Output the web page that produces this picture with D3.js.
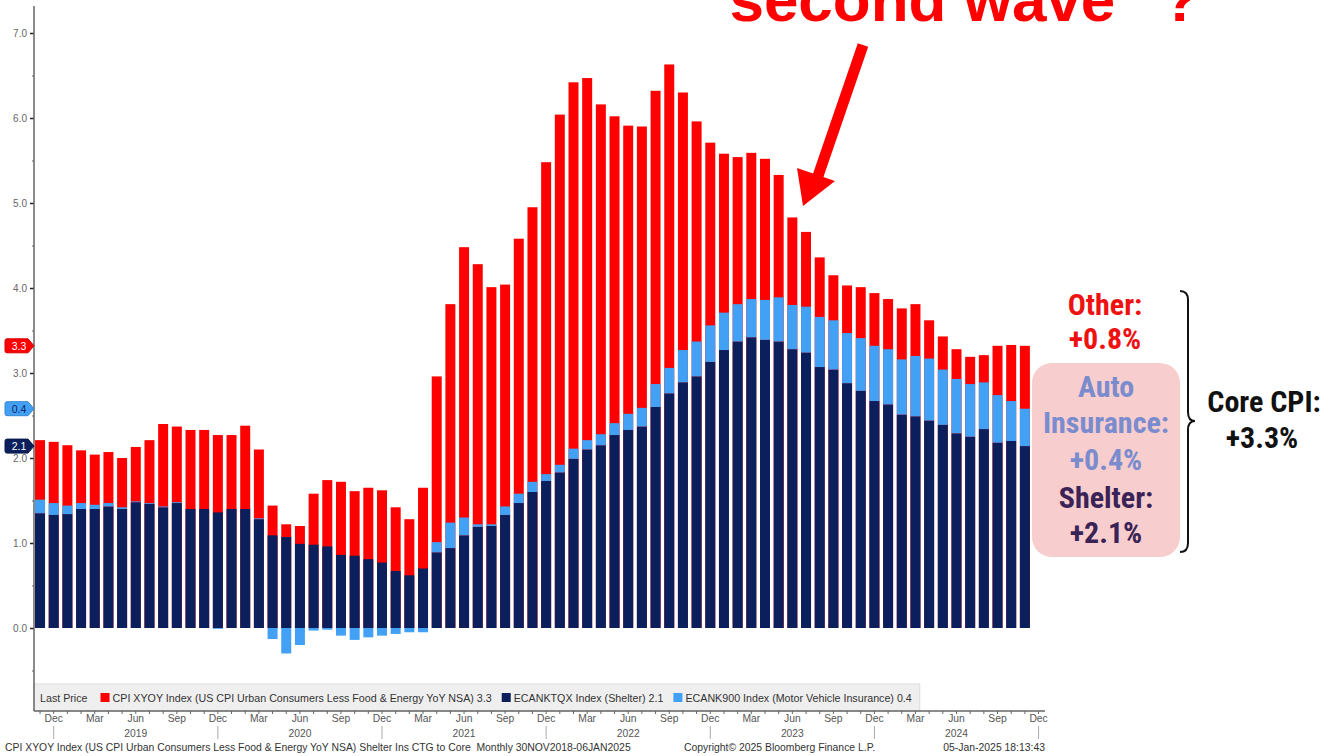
<!DOCTYPE html>
<html><head><meta charset="utf-8">
<script src="https://cdn.jsdelivr.net/npm/d3@7"></script>
<style>body{margin:0;background:#fff;} svg{display:block;}</style>
</head><body>
<svg id="chart" width="1340" height="756"></svg>
<script>
const months = ["2018-11","2018-12",
"2019-01","2019-02","2019-03","2019-04","2019-05","2019-06","2019-07","2019-08","2019-09","2019-10","2019-11","2019-12",
"2020-01","2020-02","2020-03","2020-04","2020-05","2020-06","2020-07","2020-08","2020-09","2020-10","2020-11","2020-12",
"2021-01","2021-02","2021-03","2021-04","2021-05","2021-06","2021-07","2021-08","2021-09","2021-10","2021-11","2021-12",
"2022-01","2022-02","2022-03","2022-04","2022-05","2022-06","2022-07","2022-08","2022-09","2022-10","2022-11","2022-12",
"2023-01","2023-02","2023-03","2023-04","2023-05","2023-06","2023-07","2023-08","2023-09","2023-10","2023-11","2023-12",
"2024-01","2024-02","2024-03","2024-04","2024-05","2024-06","2024-07","2024-08","2024-09","2024-10","2024-11","2024-12"];

// Core CPI YoY (total bar height)
const coreCPI = [2.21,2.19,
2.15,2.09,2.04,2.07,2.00,2.13,2.21,2.40,2.37,2.33,2.33,2.27,
2.27,2.38,2.10,1.44,1.22,1.20,1.58,1.74,1.72,1.61,1.65,1.62,
1.42,1.28,1.65,2.96,3.81,4.48,4.28,4.01,4.04,4.58,4.95,5.48,
6.04,6.42,6.47,6.16,6.02,5.91,5.90,6.32,6.63,6.30,5.96,5.71,
5.58,5.54,5.59,5.52,5.33,4.83,4.66,4.36,4.15,4.03,4.01,3.94,
3.87,3.76,3.81,3.62,3.43,3.28,3.19,3.21,3.32,3.33,3.32];

// Shelter contribution to core
const shelter = [1.35,1.33,
1.34,1.40,1.40,1.43,1.40,1.48,1.46,1.42,1.47,1.40,1.40,1.36,
1.40,1.40,1.28,1.09,1.07,0.99,0.98,0.96,0.86,0.85,0.81,0.77,
0.67,0.62,0.70,0.89,0.94,1.09,1.19,1.20,1.33,1.47,1.60,1.73,
1.83,1.99,2.10,2.15,2.27,2.33,2.37,2.60,2.76,2.89,2.96,3.13,
3.27,3.37,3.42,3.39,3.37,3.28,3.24,3.07,3.04,2.88,2.79,2.67,
2.63,2.51,2.49,2.44,2.39,2.29,2.25,2.34,2.18,2.20,2.14];

// Motor vehicle insurance contribution to core
const insurance = [0.16,0.14,
0.10,0.07,0.05,0.04,0.02,0.01,0.01,0.01,0.01,0.00,0.00,-0.01,
0.00,0.00,0.01,-0.13,-0.30,-0.20,-0.03,-0.02,-0.09,-0.14,-0.11,-0.09,
-0.07,-0.05,-0.05,0.12,0.30,0.21,0.03,0.02,0.10,0.11,0.12,0.08,
0.09,0.12,0.11,0.13,0.14,0.19,0.22,0.27,0.30,0.38,0.41,0.43,
0.44,0.44,0.45,0.47,0.52,0.52,0.54,0.59,0.58,0.59,0.62,0.65,
0.65,0.65,0.71,0.73,0.65,0.64,0.62,0.55,0.56,0.47,0.44];

const yTicks = [0,1,2,3,4,5,6,7];
const yMinorTicks = [-0.5,0.5,1.5,2.5,3.5,4.5,5.5,6.5];
const monthNames = {"12":"Dec","03":"Mar","06":"Jun","09":"Sep"};

const RED = "#ff0000", NAVY = "#0b1f5c", LBLUE = "#42a1f4";
const FONT = "'Liberation Sans', Arial, sans-serif";
const NARROW = "'Liberation Sans Narrow', 'Arial Narrow', 'Roboto Condensed', sans-serif";

const svg = d3.select("#chart");
const x = d3.scaleBand().domain(months).range([33.2, 1045.4]).paddingInner(0.27).paddingOuter(0.135);
const y = d3.scaleLinear().domain([0, 7]).range([628, 33]);
const bw = x.bandwidth();

const data = coreCPI.map((c, i) => ({m: months[i], core: c, sh: shelter[i], ins: insurance[i]}));

// Title (clipped at top, as in the source image)
svg.append("text").attr("x", 700).attr("y", 21)
  .attr("font-family", FONT).attr("font-weight", "bold").attr("font-size", 62)
  .attr("fill", RED).text("\"second wave\" ?");

// Bars
const gBars = svg.append("g");
gBars.selectAll("rect.core").data(data).join("rect").attr("class", "core")
  .attr("x", d => x(d.m)).attr("width", bw)
  .attr("y", d => y(d.core)).attr("height", d => y(0) - y(d.core)).attr("fill", RED);
gBars.selectAll("rect.sh").data(data).join("rect").attr("class", "sh")
  .attr("x", d => x(d.m)).attr("width", bw)
  .attr("y", d => y(d.sh)).attr("height", d => y(0) - y(d.sh)).attr("fill", NAVY);
gBars.selectAll("rect.ins").data(data.filter(d => d.ins !== 0)).join("rect").attr("class", "ins")
  .attr("x", d => x(d.m)).attr("width", bw)
  .attr("y", d => d.ins > 0 ? y(d.sh + d.ins) : y(0))
  .attr("height", d => d.ins > 0 ? y(d.sh) - y(d.sh + d.ins) : y(d.ins) - y(0))
  .attr("fill", LBLUE);

// Legend box
const lg = svg.append("g");
const lgBox = lg.append("rect").attr("x", 34).attr("y", 684).attr("width", 884).attr("height", 27)
  .attr("fill", "#efefef").attr("stroke", "#dcdcdc");
const legendItems = [
  {sw: null, t: "Last Price"},
  {sw: RED, t: "CPI XYOY Index (US CPI Urban Consumers Less Food & Energy YoY NSA) 3.3"},
  {sw: NAVY, t: "ECANKTQX Index (Shelter) 2.1"},
  {sw: LBLUE, t: "ECANK900 Index (Motor Vehicle Insurance) 0.4"}
];
let lx = 40;
legendItems.forEach((it, i) => {
  if (it.sw) {
    lg.append("rect").attr("x", lx).attr("y", 693).attr("width", 9).attr("height", 9).attr("fill", it.sw);
    lx += 12;
  }
  const t = lg.append("text").attr("x", lx).attr("y", 702).attr("font-family", FONT).attr("font-size", 10.7)
    .attr("fill", "#333").text(it.t);
  lx += t.node().getComputedTextLength() + (i === 0 ? 13 : 10);
});
lgBox.attr("width", Math.max(884, lx - 34 - 2));

// Y axis
const gy = svg.append("g").attr("transform", "translate(34,0)");
gy.call(d3.axisLeft(y).tickValues(yTicks).tickSize(4).tickPadding(3).tickFormat(d3.format(".1f")));
gy.select(".domain").remove();
gy.selectAll(".tick line").attr("stroke", "#222").attr("stroke-width", 1.5);
gy.selectAll(".tick text").attr("font-family", FONT).attr("font-size", 10).attr("fill", "#666");
const gyMinor = svg.append("g").attr("transform", "translate(34,0)");
gyMinor.call(d3.axisLeft(y).tickValues(yMinorTicks).tickSize(2).tickFormat(""));
gyMinor.select(".domain").remove();
gyMinor.selectAll(".tick line").attr("stroke", "#666");
svg.append("line").attr("x1", 34).attr("x2", 34).attr("y1", 6).attr("y2", 711)
  .attr("stroke", "#666").attr("stroke-width", 1.5);

// X axis
svg.append("line").attr("x1", 34).attr("x2", 1045).attr("y1", 711).attr("y2", 711)
  .attr("stroke", "#666").attr("stroke-width", 1.5);
const gxMinor = svg.append("g").attr("transform", "translate(0,711)");
gxMinor.call(d3.axisBottom(x).tickValues(months).tickSize(3).tickFormat(""));
gxMinor.select(".domain").remove();
gxMinor.selectAll(".tick line").attr("stroke", "#666");
const labelMonths = months.filter(m => monthNames[m.slice(5)]);
const gx = svg.append("g").attr("transform", "translate(0,711)");
gx.call(d3.axisBottom(x).tickValues(labelMonths).tickSize(0).tickPadding(4)
  .tickFormat(m => monthNames[m.slice(5)]));
gx.select(".domain").remove();
gx.selectAll(".tick text").attr("font-family", FONT).attr("font-size", 10.3).attr("fill", "#555");

// Year labels & separators
const yearMonths = months.filter(m => m.slice(5) === "06");
svg.append("g").selectAll("text").data(yearMonths).join("text")
  .attr("x", m => x(m) + bw / 2).attr("y", 737).attr("text-anchor", "middle")
  .attr("font-family", FONT).attr("font-size", 10.3).attr("fill", "#555").text(m => m.slice(0, 4));
const decMonths = months.filter(m => m.slice(5) === "12");
svg.append("g").selectAll("line").data(decMonths).join("line")
  .attr("x1", m => x(m) + bw / 2).attr("x2", m => x(m) + bw / 2)
  .attr("y1", 726).attr("y2", 739).attr("stroke", "#aaa");

// Footer
const footer = [
  {x: 5, a: "start", t: "CPI XYOY Index (US CPI Urban Consumers Less Food & Energy YoY NSA) Shelter Ins CTG to Core  Monthly 30NOV2018-06JAN2025"},
  {x: 684, a: "start", t: "Copyright\u00a9 2025 Bloomberg Finance L.P."},
  {x: 1045, a: "end", t: "05-Jan-2025 18:13:43"}
];
svg.append("g").selectAll("text").data(footer).join("text")
  .attr("x", d => d.x).attr("y", 751).attr("text-anchor", d => d.a)
  .attr("font-family", FONT).attr("font-size", 10.4).attr("fill", "#333")
  .attr("xml:space", "preserve").style("white-space", "pre").text(d => d.t);

// Last-value tags on the y axis
const last = data[data.length - 1];
const tags = [
  {v: last.core, fill: RED, tc: "#fff", t: d3.format(".1f")(last.core)},
  {v: last.sh + last.ins, fill: LBLUE, tc: NAVY, t: d3.format(".1f")(last.ins)},
  {v: last.sh, fill: NAVY, tc: "#fff", t: d3.format(".1f")(last.sh)}
];
tags.forEach(tg => {
  const cy = y(tg.v);
  svg.append("path")
    .attr("d", `M7,${cy-7} L28,${cy-7} L34,${cy} L28,${cy+7} L7,${cy+7} Q5,${cy+7} 5,${cy+5} L5,${cy-5} Q5,${cy-7} 7,${cy-7} Z`)
    .attr("fill", tg.fill).attr("stroke", d3.color(tg.fill).darker(0.5));
  svg.append("text").attr("x", 19).attr("y", cy + 3.8).attr("text-anchor", "middle")
    .attr("font-family", FONT).attr("font-size", 10.5).attr("fill", tg.tc).text(tg.t);
});

// Arrow
svg.append("line").attr("x1", 863).attr("y1", 45).attr("x2", 818).attr("y2", 176)
  .attr("stroke", RED).attr("stroke-width", 11);
svg.append("path").attr("d", "M803,206 L797,168 L835,181 Z").attr("fill", RED);

// Right-side annotation
svg.append("rect").attr("x", 1032).attr("y", 363).attr("width", 148).attr("height", 194)
  .attr("rx", 20).attr("fill", "#f8cdcd");
const notes = [
  {x: 1105, y: 315, c: "#ee1111", t: "Other:"},
  {x: 1105, y: 349, c: "#ee1111", t: "+0.8%"},
  {x: 1106, y: 397, c: "#7a8cce", t: "Auto"},
  {x: 1106, y: 433, c: "#7a8cce", t: "Insurance:"},
  {x: 1106, y: 470, c: "#7a8cce", t: "+0.4%"},
  {x: 1106, y: 508, c: "#3a2356", t: "Shelter:"},
  {x: 1106, y: 543, c: "#3a2356", t: "+2.1%"},
  {x: 1264, y: 412, c: "#111", t: "Core CPI:"},
  {x: 1262, y: 448, c: "#111", t: "+3.3%"}
];
svg.append("g").selectAll("text").data(notes).join("text")
  .attr("x", d => d.x).attr("y", d => d.y).attr("text-anchor", "middle")
  .attr("font-family", NARROW).attr("font-weight", "bold").attr("font-size", 30)
  .attr("fill", d => d.c).text(d => d.t);

// Curly brace
svg.append("path")
  .attr("d", "M1180,291 Q1188,291 1188,300 L1188,412 Q1188,421 1195,421 Q1188,421 1188,430 L1188,543 Q1188,552 1180,552")
  .attr("fill", "none").attr("stroke", "#111").attr("stroke-width", 2);
</script>
</body></html>
